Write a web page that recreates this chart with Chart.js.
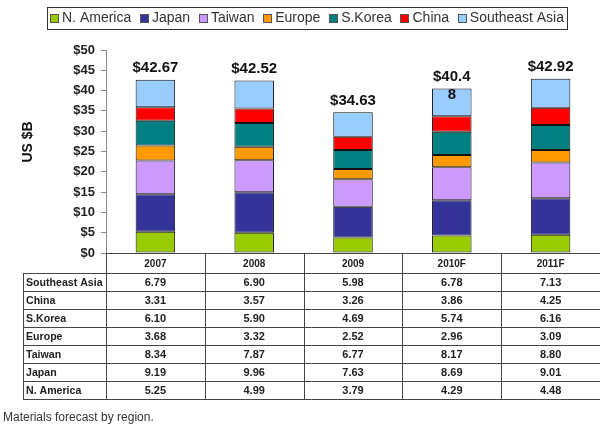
<!DOCTYPE html>
<html>
<head>
<meta charset="utf-8">
<title>Materials forecast by region</title>
<script src="https://cdn.jsdelivr.net/npm/chart.js@4.4.1/dist/chart.umd.min.js"></script>
<style>
    html, body { margin: 0; padding: 0; background: #fff; }
    canvas { display: block; }
</style>
</head>
<body>
<canvas id="materials-chart" width="600" height="425"></canvas>
<script>
// Datos del gráfico (US $B)
const years = ['2007', '2008', '2009', '2010F', '2011F'];
const regions = ['N. America', 'Japan', 'Taiwan', 'Europe', 'S.Korea', 'China', 'Southeast Asia'];
const nAmerica = [5.25, 4.99, 3.79, 4.29, 4.48];
const japan    = [9.19, 9.96, 7.63, 8.69, 9.01];
const taiwan   = [8.34, 7.87, 6.77, 8.17, 8.80];
const europe   = [3.68, 3.32, 2.52, 2.96, 3.09];
const sKorea   = [6.10, 5.90, 4.69, 5.74, 6.16];
const china    = [3.31, 3.57, 3.26, 3.86, 4.25];
const seAsia   = [6.79, 6.90, 5.98, 6.78, 7.13];
// Totales tal como aparecen (el de 2010F sale partido en dos líneas)
const totalLabels = [['$42.67'], ['$42.52'], ['$34.63'], ['$40.4', '8'], ['$42.92']];
const caption = 'Materials forecast by region.';

const colors = ['#99cc00', '#333399', '#cc99ff', '#ff9900', '#008080', '#ff0000', '#99ccff'];
const series = [nAmerica, japan, taiwan, europe, sKorea, china, seAsia];
const FONT = '"Liberation Sans", Arial, sans-serif';

// Leyenda con recuadro
const boxLegend = {
    id: 'boxLegend',
    afterDraw(chart) {
        const c = chart.ctx;
        const box = { x: 47, y: 7, w: 520, h: 22 };
        c.save();
        c.fillStyle = '#fff';
        c.fillRect(box.x, box.y, box.w, box.h);
        c.strokeStyle = '#333';
        c.lineWidth = 1;
        c.strokeRect(box.x + 0.5, box.y + 0.5, box.w, box.h);
        c.font = '14px ' + FONT;
        c.textBaseline = 'middle';
        const sq = 9, gapIn = 3;
        const widths = chart.data.datasets.map(d => c.measureText(d.label).width);
        const used = widths.reduce((a, b) => a + b, 0) + widths.length * (sq + gapIn);
        const gap = (box.w - 6 - used) / (widths.length - 1);
        let px = box.x + 3;
        const cy = box.y + box.h / 2 + 0.5;
        chart.data.datasets.forEach((d, i) => {
            const sx = Math.round(px), sy = Math.round(cy - sq / 2);
            c.fillStyle = d.backgroundColor;
            c.fillRect(sx, sy, sq, sq);
            c.strokeStyle = '#555';
            c.strokeRect(sx + 0.5, sy + 0.5, sq - 1, sq - 1);
            c.fillStyle = '#333';
            c.fillText(d.label, px + sq + gapIn, cy);
            px += sq + gapIn + widths[i] + gap;
        });
        c.restore();
    }
};

// Totales encima de cada barra
const totals = {
    id: 'totals',
    afterDatasetsDraw(chart) {
        const c = chart.ctx;
        const topMeta = chart.getDatasetMeta(chart.data.datasets.length - 1);
        c.save();
        c.font = 'bold 15px ' + FONT;
        c.fillStyle = '#111';
        c.textAlign = 'center';
        c.textBaseline = 'bottom';
        topMeta.data.forEach((bar, i) => {
            totalLabels[i].forEach((line, k) => {
                c.fillText(line, bar.x, bar.y - 4 + k * 18);
            });
        });
        c.restore();
    }
};

// Tabla de datos bajo el eje X, alineada con las categorías
const dataTable = {
    id: 'dataTable',
    afterDraw(chart) {
        const c = chart.ctx;
        const x = chart.scales.x;
        const area = chart.chartArea;
        const step = (x.right - x.left) / years.length;
        const left = 23, headH = 20, rowH = 18;
        const top = Math.round(area.bottom);
        const rowsTop = top + headH;
        const bottom = rowsTop + rowH * regions.length;
        const right = chart.width;

        c.save();
        c.strokeStyle = '#444';
        c.lineWidth = 1;
        c.beginPath();
        // eje X
        c.moveTo(x.left, top + 0.5); c.lineTo(right, top + 0.5);
        // líneas horizontales
        for (let r = 0; r <= regions.length; r++) {
            const yy = rowsTop + r * rowH + 0.5;
            c.moveTo(left, yy); c.lineTo(right, yy);
        }
        // líneas verticales
        c.moveTo(left + 0.5, rowsTop); c.lineTo(left + 0.5, bottom);
        for (let i = 0; i < years.length; i++) {
            const xx = Math.round(x.left + i * step) + 0.5;
            c.moveTo(xx, top); c.lineTo(xx, bottom);
        }
        c.stroke();

        c.fillStyle = '#222';
        c.textBaseline = 'middle';
        // cabecera con los años
        c.font = 'bold 10px ' + FONT;
        c.textAlign = 'center';
        years.forEach((yr, i) => c.fillText(yr, x.getPixelForValue(i), top + headH / 2 + 1));

        // filas: de arriba abajo, Southeast Asia ... N. America
        const rows = regions.map((name, k) => ({ name, values: series[k] })).reverse();
        rows.forEach((row, r) => {
            const cy = rowsTop + r * rowH + rowH / 2 + 1;
            c.font = 'bold 10.6px ' + FONT;
            c.textAlign = 'left';
            c.fillText(row.name, left + 3, cy);
            c.font = 'bold 11px ' + FONT;
            c.textAlign = 'center';
            row.values.forEach((v, i) => c.fillText(v.toFixed(2), x.getPixelForValue(i), cy));
        });

        // eje Y: título
        c.save();
        c.translate(28, 142);
        c.rotate(-Math.PI / 2);
        c.font = 'bold 14px ' + FONT;
        c.textAlign = 'center';
        c.fillStyle = '#111';
        c.fillText('US $B', 0, 0);
        c.restore();

        // pie de figura
        c.font = '12px ' + FONT;
        c.textAlign = 'left';
        c.fillStyle = '#333';
        c.fillText(caption, 3, 418);
        c.restore();
    }
};

const ctx = document.getElementById('materials-chart').getContext('2d');
new Chart(ctx, {
    type: 'bar',
    data: {
        labels: years,
        datasets: regions.map((name, i) => ({
            label: name,
            data: series[i],
            backgroundColor: colors[i],
            borderColor: '#111',
            borderWidth: 1,
            borderSkipped: false,
            categoryPercentage: 1,
            barPercentage: 0.4
        }))
    },
    options: {
        responsive: false,
        animation: false,
        layout: { padding: { top: 50, bottom: 172, left: 0, right: 0 } },
        plugins: {
            legend: { display: false },
            tooltip: { enabled: false }
        },
        scales: {
            x: { stacked: true, display: false },
            y: {
                stacked: true,
                min: 0,
                max: 50,
                ticks: {
                    stepSize: 5,
                    callback: v => '$' + v,
                    font: { family: FONT, size: 13, weight: 'bold' },
                    color: '#222',
                    padding: 6
                },
                grid: { drawOnChartArea: false, drawTicks: true, tickLength: 5, color: '#888' },
                border: { display: true, color: '#888' },
                afterFit: s => { s.width = 106; }
            }
        }
    },
    plugins: [boxLegend, totals, dataTable]
});
</script>
</body>
</html>
